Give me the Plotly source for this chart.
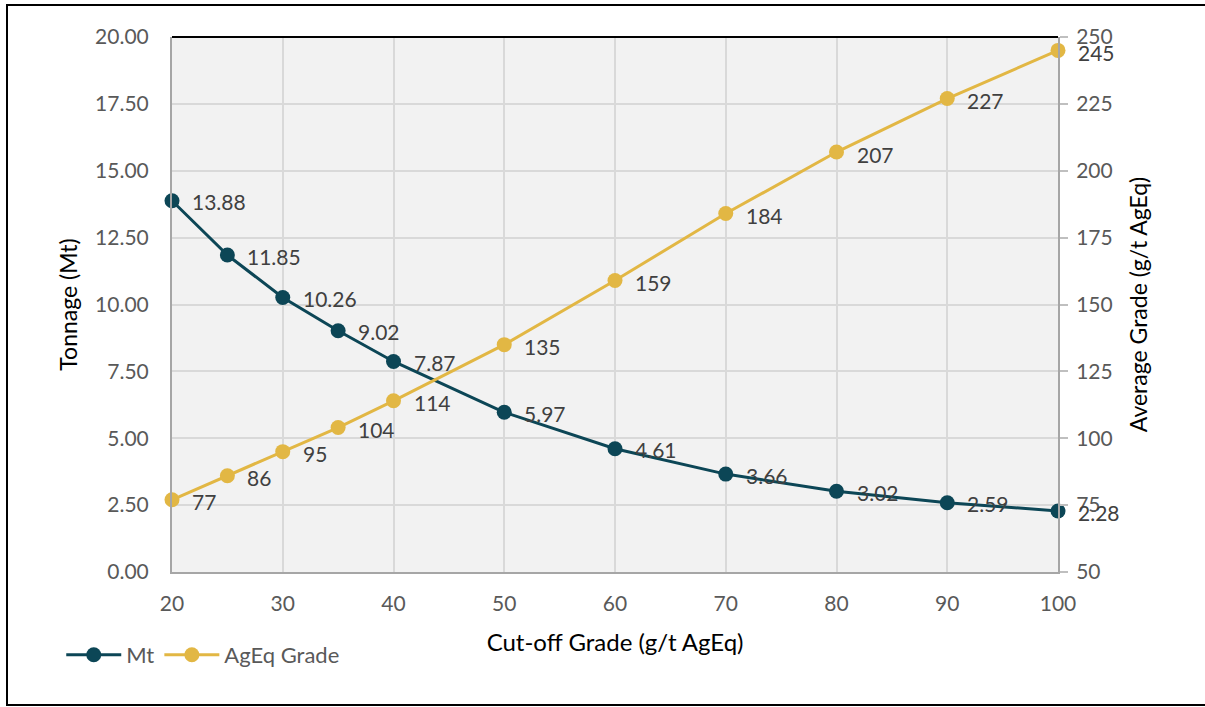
import plotly.graph_objects as go

cutoff = [20, 25, 30, 35, 40, 50, 60, 70, 80, 90, 100]
tonnage_mt = [13.88, 11.85, 10.26, 9.02, 7.87, 5.97, 4.61, 3.66, 3.02, 2.59, 2.28]
grade_ageq = [77, 86, 95, 104, 114, 135, 159, 184, 207, 227, 245]
left_ticks = [0, 2.5, 5, 7.5, 10, 12.5, 15, 17.5, 20]
right_ticks = [50, 75, 100, 125, 150, 175, 200, 225, 250]

MT_COLOR = "#0c4656"
AG_COLOR = "#e2b744"
FONT = "Lato"
TICK_COLOR = "#595959"
LABEL_COLOR = "#404040"

fig = go.Figure()
fig.add_trace(go.Scatter(x=cutoff, y=tonnage_mt, name="Mt", mode="lines+markers",
                         line=dict(color=MT_COLOR, width=3),
                         marker=dict(color=MT_COLOR, size=15), yaxis="y", cliponaxis=False))
fig.add_trace(go.Scatter(x=cutoff, y=grade_ageq, name="AgEq Grade", mode="lines+markers",
                         line=dict(color=AG_COLOR, width=3),
                         marker=dict(color=AG_COLOR, size=15), yaxis="y2", cliponaxis=False))

anns = []
for xv, yv in zip(cutoff, tonnage_mt):
    anns.append(dict(x=xv, y=yv, xref="x", yref="y", text=f"{yv:.2f}", showarrow=False,
                     xanchor="left", yanchor="middle", xshift=18, yshift=-1,
                     font=dict(family=FONT, size=21, color=LABEL_COLOR)))
for xv, yv in zip(cutoff, grade_ageq):
    anns.append(dict(x=xv, y=yv, xref="x", yref="y2", text=f"{yv}", showarrow=False,
                     xanchor="left", yanchor="middle", xshift=18, yshift=-2,
                     font=dict(family=FONT, size=21, color=LABEL_COLOR)))

fig.update_layout(
    width=1205, height=707,
    margin=dict(l=172, r=147, t=37, b=135),
    paper_bgcolor="white", plot_bgcolor="#f2f2f2",
    font=dict(family=FONT, size=16, color=TICK_COLOR),
    showlegend=True,
    legend=dict(orientation="h", x=-0.125, y=-0.155, xanchor="left", yanchor="middle",
                font=dict(family=FONT, size=22, color=TICK_COLOR), itemwidth=55,
                tracegroupgap=0, bgcolor="rgba(0,0,0,0)"),
    xaxis=dict(range=[20, 100], dtick=10, tick0=20, showgrid=True, gridcolor="#d9d9d9", gridwidth=2,
               showline=True, linecolor="#a6a6a6", linewidth=2, zeroline=False, ticks="",
               tickfont=dict(family=FONT, size=21, color=TICK_COLOR), ticklabelstandoff=12,
               title=dict(text="Cut-off Grade (g/t AgEq)", standoff=20,
                          font=dict(family=FONT, size=24, color="black"))),
    yaxis=dict(range=[0, 20], tickvals=left_ticks, ticktext=[f"{v:.2f}" for v in left_ticks],
               showgrid=True, gridcolor="#d9d9d9", gridwidth=2, zeroline=False,
               showline=True, linecolor="#a6a6a6", linewidth=2, ticks="",
               tickfont=dict(family=FONT, size=21, color=TICK_COLOR), ticklabelstandoff=17,
               title=dict(text="Tonnage (Mt)", standoff=11,
                          font=dict(family=FONT, size=23, color="black"))),
    yaxis2=dict(range=[50, 250], tickvals=right_ticks, overlaying="y", side="right",
                showgrid=False, zeroline=False, showline=True, linecolor="#a6a6a6", linewidth=2,
                ticks="outside", ticklen=8, tickcolor="#bfbfbf", tickwidth=2,
                tickfont=dict(family=FONT, size=21, color=TICK_COLOR), ticklabelstandoff=4,
                title=dict(text="Average Grade (g/t AgEq)", standoff=19,
                           font=dict(family=FONT, size=23, color="black"))),
    annotations=anns,
    shapes=[
        dict(type="line", xref="paper", yref="paper", x0=0, x1=1, y0=1, y1=1,
             line=dict(color="black", width=2)),
        dict(type="rect", xref="paper", yref="paper",
             x0=(7 - 172) / 886, x1=(1215 - 172) / 886,
             y0=(572 - 705) / 535, y1=(572 - 5) / 535,
             line=dict(color="black", width=2), layer="below"),
    ],
)

fig.write_html("out.html", config={"displayModeBar": False},
               post_script="document.body.style.margin='0';")
